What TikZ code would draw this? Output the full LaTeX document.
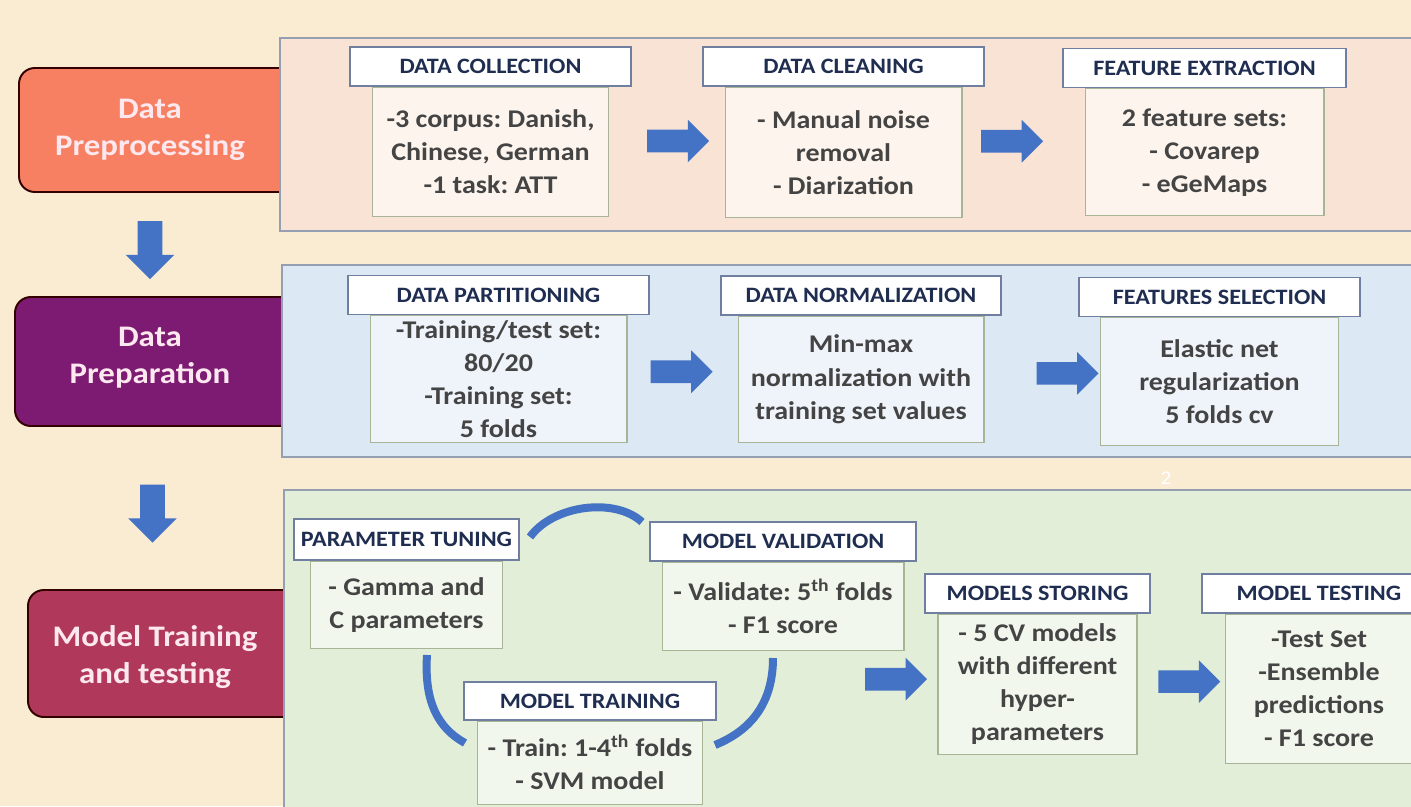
\documentclass[tikz,border=0pt]{standalone}
\usepackage{fontspec}
\setmainfont{Carlito}[FakeStretch=1.1]
\usepackage{tikz}
\usetikzlibrary{arrows,calc,positioning,shapes,shapes.arrows}
\frenchspacing
\definecolor{bgcol}{RGB}{250,235,211}
\definecolor{panA}{RGB}{249,227,212}
\definecolor{panB}{RGB}{221,232,245}
\definecolor{panC}{RGB}{227,238,216}
\definecolor{bxA}{RGB}{253,245,237}
\definecolor{bxB}{RGB}{239,244,251}
\definecolor{bxC}{RGB}{242,247,237}
\definecolor{panline}{RGB}{150,158,178}
\definecolor{hdrline}{RGB}{112,126,160}
\definecolor{hdrtext}{RGB}{31,45,80}
\definecolor{bxline}{RGB}{168,180,150}
\definecolor{bxtext}{RGB}{68,68,68}
\definecolor{arrblue}{RGB}{68,114,196}
\definecolor{tabA}{RGB}{247,128,98}
\definecolor{tabB}{RGB}{125,26,114}
\definecolor{tabC}{RGB}{176,56,90}
\definecolor{tabfont}{RGB}{252,232,238}
\tikzset{%
	panel/.style   = {draw=panline, line width=1.1pt},
	tab/.style     = {draw=black!80!red, line width=1.1pt, rounded corners=9pt},
	tabtext/.style = {text=tabfont, align=center, font=\bfseries\fontsize{17}{21}\selectfont},
	hdr/.style     = {draw=hdrline, fill=white, line width=0.8pt, minimum height=0.78cm, inner sep=1pt, text=hdrtext, font=\bfseries\fontsize{12.5}{14}\selectfont},
	bx/.style      = {draw=bxline, line width=0.6pt, inner sep=2pt, align=center, text=bxtext, font=\bfseries\fontsize{14.5}{18.8}\selectfont},
	rarrow/.style  = {single arrow, fill=arrblue, inner xsep=0pt, inner ysep=0.22cm, minimum height=1.24cm, single arrow head extend=0.2cm},
	darrow/.style  = {single arrow, fill=arrblue, rotate=-90, inner xsep=0pt, inner ysep=0.24cm, minimum height=1.16cm, single arrow head extend=0.24cm},
	cyc/.style     = {draw=arrblue, line width=0.16cm},
}
\begin{document}
\begin{tikzpicture}[x=0.02cm, y=-0.02cm]
		\useasboundingbox (0,0) rectangle (1411,806);
		\clip (0,0) rectangle (1411,806);
		\fill[bgcol] (0,0) rectangle (1411,806);
		% stage tabs
		\draw[tab, fill=tabA] (300,68) -- (19,68) -- (19,192) -- (300,192);
		\draw[tab, fill=tabB] (300,297) -- (15,297) -- (15,426) -- (300,426);
		\draw[tab, fill=tabC] (300,590) -- (28,590) -- (28,717) -- (300,717);
		\node[tabtext] (preptxt) at (150,130) {Data\\Preprocessing};
		\node[tabtext] (prepatxt) at (150,358) {Data\\Preparation};
		\node[tabtext] (traintxt) at (155,657) {Model Training\\and testing};
		\node[darrow] (dn1) at ($(preptxt)!0.5!(prepatxt)$) {};
		\node[darrow] (dn2) at ($(prepatxt)!0.5!(traintxt)$) {};
		
		\draw[panel, fill=panA] (280,38) rectangle (1430,231);
		\draw[panel, fill=panB] (282,265) rectangle (1430,457);
		\draw[panel, fill=panC] (284,490) rectangle (1430,830);
		
		% row 1
		\node[hdr, minimum width=5.62cm] (colhd) at (490.5,66.5) {DATA COLLECTION};
		\node[bx, fill=bxA, minimum width=4.72cm, minimum height=2.58cm, below=0pt of colhd] (colbx) {-3 corpus: Danish,\\Chinese, German\\-1 task: ATT};
		\node[hdr, minimum width=5.62cm] (clnhd) at (843.5,66.5) {DATA CLEANING};
		\node[bx, fill=bxA, minimum width=4.74cm, minimum height=2.6cm, below=0pt of clnhd] (clnbx) {- Manual noise\\removal\\- Diarization};
		\node[hdr, minimum width=5.66cm] (feathd) at (1204.5,68) {FEATURE EXTRACTION};
		\node[bx, fill=bxA, minimum width=4.78cm, minimum height=2.54cm, below=0pt of feathd] (featbx) {2 feature sets:\\- Covarep\\- eGeMaps};
		\node[rarrow, yshift=0.22cm] (ar1) at ($(colbx.east)!0.55!(clnbx.west)$) {};
		\node[rarrow, yshift=0.22cm] (ar2) at ($(clnbx.east)!0.36!(featbx.west)$) {};
		
		% row 2
		\node[hdr, minimum width=6.02cm] (parthd) at (498.5,295) {DATA PARTITIONING};
		\node[bx, fill=bxB, minimum width=5.14cm, minimum height=2.54cm, below=0pt of parthd] (partbx) {-Training/test set:\\80/20\\-Training set:\\5 folds};
		\node[hdr, minimum width=5.6cm] (normhd) at (861,295.5) {DATA NORMALIZATION};
		\node[bx, fill=bxB, minimum width=4.92cm, minimum height=2.52cm, below=0pt of normhd] (normbx) {Min-max\\normalization with\\training set values};
		\node[hdr, minimum width=5.62cm] (selhd) at (1219.5,297) {FEATURES SELECTION};
		\node[bx, fill=bxB, minimum width=4.76cm, minimum height=2.56cm, below=0pt of selhd] (selbx) {Elastic net\\regularization\\5 folds cv};
		\node[rarrow, yshift=0.15cm] (ar3) at ($(partbx.east)!0.44!(normbx.west)$) {};
		\node[rarrow, yshift=0.15cm] (ar4) at ($(normbx.east)!0.67!(selbx.west)$) {};
		\node[text=white, font=\fontsize{11}{13}\selectfont] (pgnum) at (1166,478) {2};
		
		% row 3
		\node[hdr, minimum width=4.5cm, minimum height=0.82cm] (tunhd) at (406.5,539.5) {PARAMETER TUNING};
		\node[bx, fill=bxC, minimum width=3.84cm, minimum height=1.74cm, below=0pt of tunhd] (tunbx) {- Gamma and\\C parameters};
		\node[hdr, minimum width=5.32cm] (valhd) at (783,541.5) {MODEL VALIDATION};
		\node[bx, fill=bxC, minimum width=4.84cm, minimum height=1.76cm, below=0pt of valhd] (valbx) {- Validate: 5\textsuperscript{th} folds\\- F1 score};
		\node[hdr, minimum width=5.04cm, minimum height=0.76cm] (trnhd) at (590,701) {MODEL TRAINING};
		\node[bx, fill=bxC, minimum width=4.5cm, minimum height=1.66cm, below=0pt of trnhd] (trnbx) {- Train: 1-4\textsuperscript{th} folds\\- SVM model};
		\node[hdr, minimum width=4.5cm] (storhd) at (1037.5,593.5) {MODELS STORING};
		\node[bx, fill=bxC, minimum width=3.98cm, minimum height=2.8cm, below=0pt of storhd] (storbx) {- 5 CV models\\with different\\hyper-\\parameters};
		\node[hdr, minimum width=4.68cm] (testhd) at (1319,593.5) {MODEL TESTING};
		\node[bx, fill=bxC, minimum width=3.76cm, minimum height=2.98cm, below=0pt of testhd] (testbx) {-Test Set\\-Ensemble\\predictions\\- F1 score};
		\node[rarrow, yshift=0.1cm, left=0.2cm of storbx] (ar5) {};
		\node[rarrow, yshift=0.1cm] (ar6) at ($(storbx.east)!0.53!(testbx.west)$) {};
		
		% training cycle
		\coordinate (t1) at (530,537);
		\coordinate (t2) at (642,522);
		\coordinate (l1) at (427,655);
		\coordinate (l2) at (465,743);
		\coordinate (r1) at (773,658);
		\coordinate (r2) at (715,745);
		\draw[cyc] (t1) .. controls (553,505) and (615,497) .. (t2);
		\draw[cyc] (l1) .. controls (424,702) and (438,728) .. (l2);
		\draw[cyc] (r1) .. controls (773,702) and (752,730) .. (r2);
\end{tikzpicture}
\end{document}
